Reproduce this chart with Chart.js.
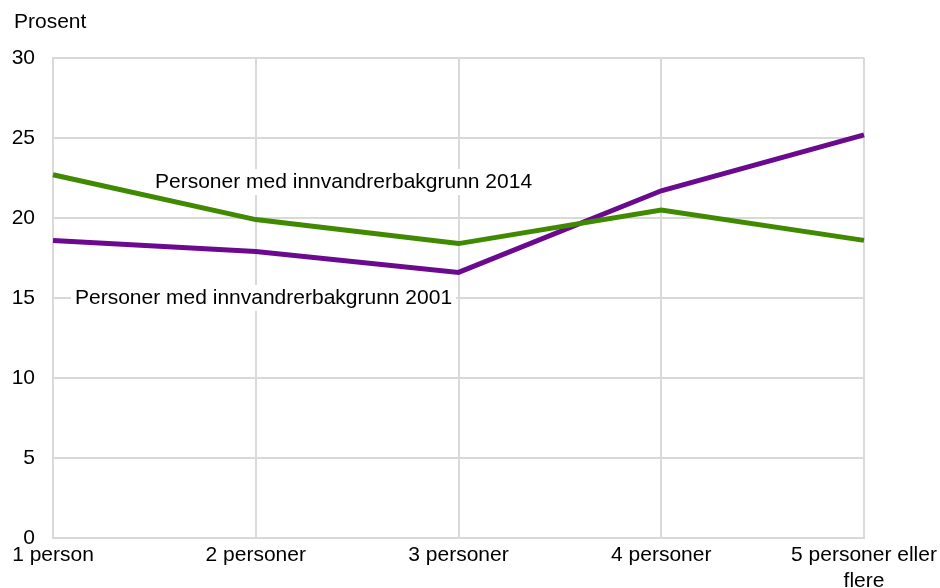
<!DOCTYPE html>
<html lang="no">
<head>
    <meta charset="UTF-8">
    <title>Personer etter husholdningsstørrelse</title>
    <script src="https://cdn.jsdelivr.net/npm/chart.js"></script>
    <style>
        html, body { margin: 0; padding: 0; background: #fff; }
        #wrap { width: 940px; height: 588px; }
    </style>
</head>
<body>
    <div id="wrap">
        <canvas id="lineChart" width="940" height="588"></canvas>
    </div>

    <script>
        // Data
        const categories = ['1 person', '2 personer', '3 personer', '4 personer', ['5 personer eller', 'flere']];
        const innvandrer2014 = [22.7, 19.9, 18.4, 20.5, 18.6];
        const innvandrer2001 = [18.6, 17.9, 16.6, 21.7, 25.2];
        const yTicks = [0, 5, 10, 15, 20, 25, 30];

        const FONT = '"Liberation Sans", Arial, sans-serif';
        const FONT_SIZE = 21;

        // Texte "Prosent" + étiquettes des séries avec fond blanc (sous les lignes)
        const annotations = {
            id: 'annotations',
            beforeDatasetsDraw(chart) {
                const ctx = chart.ctx;
                const x = chart.scales.x;
                const y = chart.scales.y;
                ctx.save();
                ctx.font = FONT_SIZE + 'px ' + FONT;
                ctx.textBaseline = 'middle';

                ctx.fillStyle = '#000';
                ctx.textAlign = 'left';
                ctx.fillText('Prosent', 14, 22);

                const labels = [
                    { text: 'Personer med innvandrerbakgrunn 2014', cx: x.getPixelForValue(0) + 102, cy: y.getPixelForValue(22.25) },
                    { text: 'Personer med innvandrerbakgrunn 2001', cx: x.getPixelForValue(0) + 22, cy: y.getPixelForValue(15.0) }
                ];
                labels.forEach(l => {
                    const w = ctx.measureText(l.text).width;
                    ctx.fillStyle = '#fff';
                    ctx.fillRect(l.cx - 4, l.cy - 13, w + 8, 26);
                    ctx.fillStyle = '#000';
                    ctx.fillText(l.text, l.cx, l.cy);
                });
                ctx.restore();
            }
        };

        new Chart(document.getElementById('lineChart'), {
            type: 'line',
            data: {
                labels: categories,
                datasets: [
                    {
                        label: 'Personer med innvandrerbakgrunn 2014',
                        data: innvandrer2014,
                        borderColor: '#3f8a00',
                        backgroundColor: '#3f8a00',
                        borderWidth: 5,
                        pointRadius: 0,
                        tension: 0,
                        fill: false
                    },
                    {
                        label: 'Personer med innvandrerbakgrunn 2001',
                        data: innvandrer2001,
                        borderColor: '#6b0a8f',
                        backgroundColor: '#6b0a8f',
                        borderWidth: 5,
                        pointRadius: 0,
                        tension: 0,
                        fill: false
                    }
                ]
            },
            options: {
                responsive: false,
                animation: false,
                devicePixelRatio: 1,
                layout: { padding: { top: 58, right: 76, left: 0, bottom: 0 } },
                plugins: {
                    legend: { display: false },
                    tooltip: { enabled: false }
                },
                scales: {
                    x: {
                        offset: false,
                        grid: { color: '#d9d9d9', lineWidth: 2, drawTicks: false },
                        border: { color: '#d9d9d9', width: 2 },
                        ticks: {
                            color: '#000',
                            font: { family: FONT, size: FONT_SIZE, lineHeight: 1.2 },
                            padding: 5,
                            maxRotation: 0,
                            autoSkip: false
                        },
                        afterFit: s => {
                            s.height = 50;
                            s.paddingLeft = 0;
                            s.paddingRight = 0;
                        }
                    },
                    y: {
                        min: 0,
                        max: 30,
                        afterBuildTicks: s => { s.ticks = yTicks.map(v => ({ value: v })); },
                        grid: { color: '#d9d9d9', lineWidth: 2, drawTicks: false },
                        border: { color: '#d9d9d9', width: 2 },
                        ticks: {
                            color: '#000',
                            font: { family: FONT, size: FONT_SIZE },
                            padding: 18
                        },
                        afterFit: s => { s.width = 53; }
                    }
                }
            },
            plugins: [annotations]
        });
    </script>
</body>
</html>
